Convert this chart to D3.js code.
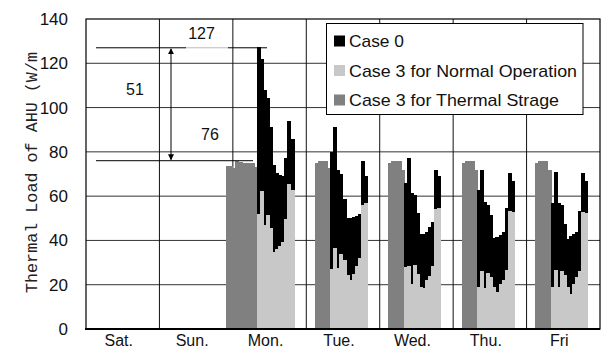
<!DOCTYPE html>
<html>
<head>
<meta charset="utf-8">
<script src="https://cdn.jsdelivr.net/npm/d3@7"></script>
<style>
  body { margin: 0; background: #fff; }
  svg { display: block; }
  svg text { font-family: "Liberation Sans", Arial, sans-serif; fill: #111; }
  svg text.y-title { font-family: "Liberation Mono", monospace; fill: #222; }
</style>
</head>
<body>
<svg id="chart" width="603" height="349"></svg>
<script>
const dayLabels = ['Sat.', 'Sun.', 'Mon.', 'Tue.', 'Wed.', 'Thu.', 'Fri']
const yTicks = [0, 20, 40, 60, 80, 100, 120, 140]
const seriesNames = ['Case 0', 'Case 3 for Normal Operation', 'Case 3 for Thermal Strage']

// first hour (counted from Sat 0:00) of each block
const storageStart = [46, 75, 99, 123, 147]
const storageLoad = [
  [73.5, 73.5, 72.5, 76, 75.5, 75, 75, 75, 75, 73],
  [75, 76, 76, 76, 72.5],
  [75, 76, 76, 76, 72],
  [75, 76, 76, 76, 72],
  [75, 76, 76, 76, 72],
]
const operationStart = [56, 80, 104, 128, 152]
const case0Load = [
  [127.5, 122, 108, 104.5, 91, 74, 70.5, 69.5, 69, 77, 94, 86],
  [80, 91, 72, 70, 58.5, 50, 50, 50.5, 51, 52, 76, 69],
  [66, 77, 61.5, 60.5, 52.5, 43, 43, 44, 46, 48.5, 72, 69],
  [63, 72, 57.5, 56, 51.5, 41, 41.5, 42.5, 44, 54.5, 70.5, 67],
  [57, 71, 57, 56, 47.5, 40.5, 42, 43, 44, 53.5, 70.5, 67],
]
const case3NormalLoad = [
  [52, 62.5, 47, 51.5, 45.5, 35, 36, 37.5, 39.5, 49.5, 65.5, 63],
  [27, 36.5, 27.5, 34, 31, 24.5, 22, 25, 28.5, 32, 56, 57],
  [28, 28.5, 20.5, 29, 25, 19, 18.5, 22, 24, 28.5, 54, 54.5],
  [19, 26, 18.5, 25.5, 23.5, 19, 16.5, 20.5, 22, 26.5, 53.5, 53],
  [19, 26.5, 19, 26, 24.5, 19, 16, 20.5, 23.5, 26, 53, 52.5],
]
const peakLoad = 127
const storedLoad = 76
const shiftedLoad = 51

const colors = ['#000000', '#c8c8c8', '#808080']
const svg = d3.select('#chart')
const x = d3.scaleLinear().domain([0, 168]).range([86, 600])
const y = d3.scaleLinear().domain([0, 140]).range([329, 19])

const toBars = (starts, values) => starts.flatMap((s, i) => values[i].map((v, j) => ({ hour: s + j, value: v })))

// grid
svg.append('g').attr('class', 'grid-y')
  .selectAll('line')
  .data(yTicks.slice(1, -1)).enter()
  .append('line')
  .attr('x1', x(0)).attr('x2', x(168))
  .attr('y1', (d) => y(d)).attr('y2', (d) => y(d))
  .attr('stroke', '#333').attr('stroke-width', 1)
svg.append('g').attr('class', 'grid-x')
  .selectAll('line')
  .data(d3.range(1, dayLabels.length)).enter()
  .append('line')
  .attr('x1', (d) => x(d * 24)).attr('x2', (d) => x(d * 24))
  .attr('y1', y(140)).attr('y2', y(0))
  .attr('stroke', '#111').attr('stroke-width', 1)

// bars, snapped to whole pixels so neighbours don't leave seams
const drawBars = (data, color, cls) => {
  svg.append('g').attr('class', cls)
    .attr('shape-rendering', 'crispEdges')
    .selectAll('rect')
    .data(data).enter()
    .append('rect')
    .attr('x', (d) => Math.floor(x(d.hour)))
    .attr('width', (d) => Math.ceil(x(d.hour + 1)) - Math.floor(x(d.hour)))
    .attr('y', (d) => Math.round(y(d.value)))
    .attr('height', (d) => Math.round(y(0)) - Math.round(y(d.value)))
    .attr('fill', color)
}
drawBars(toBars(storageStart, storageLoad), colors[2], 'storage')
drawBars(toBars(operationStart, case0Load), colors[0], 'case0')
drawBars(toBars(operationStart, case3NormalLoad), colors[1], 'case3')

// frame
svg.append('rect')
  .attr('x', x(0)).attr('y', y(140))
  .attr('width', x(168) - x(0)).attr('height', y(0) - y(140))
  .attr('fill', 'none').attr('stroke', '#000').attr('stroke-width', 1.2)
svg.append('line')
  .attr('x1', x(0) - 1).attr('x2', x(168))
  .attr('y1', y(0)).attr('y2', y(0))
  .attr('stroke', '#000').attr('stroke-width', 2)

// axes labels
svg.append('g').selectAll('text')
  .data(yTicks).enter()
  .append('text')
  .attr('x', 68)
  .attr('y', (d) => y(d) + 6)
  .attr('text-anchor', 'end')
  .attr('font-size', 17)
  .text((d) => d)
svg.append('g').selectAll('text')
  .data(dayLabels).enter()
  .append('text')
  .attr('x', (d, i) => x(i * 24 + 12) - 4)
  .attr('y', 346)
  .attr('text-anchor', 'middle')
  .attr('font-size', 16)
  .text((d) => d)
svg.append('text')
  .attr('class', 'y-title')
  .attr('transform', 'translate(37,293) rotate(-90)')
  .attr('font-size', 17)
  .attr('textLength', 241)
  .attr('lengthAdjust', 'spacingAndGlyphs')
  .text('Thermal Load of AHU (W/m')

// annotation
svg.append('defs').append('marker')
  .attr('id', 'arrow')
  .attr('viewBox', '0 0 10 10')
  .attr('refX', 9).attr('refY', 5)
  .attr('markerWidth', 6).attr('markerHeight', 7)
  .attr('markerUnits', 'userSpaceOnUse')
  .attr('orient', 'auto')
  .append('path').attr('d', 'M0,0L10,5L0,10Z').attr('fill', '#000')
const ann = svg.append('g').attr('class', 'annotation')
ann.append('line').attr('x1', 96).attr('x2', 186).attr('y1', y(peakLoad)).attr('y2', y(peakLoad)).attr('stroke', '#000')
ann.append('line').attr('x1', 186).attr('x2', 228).attr('y1', y(peakLoad)).attr('y2', y(peakLoad)).attr('stroke', '#bbb')
ann.append('line').attr('x1', 228).attr('x2', 267).attr('y1', y(peakLoad)).attr('y2', y(peakLoad)).attr('stroke', '#000')
ann.append('line').attr('x1', 96).attr('x2', 253).attr('y1', y(storedLoad)).attr('y2', y(storedLoad)).attr('stroke', '#000')
ann.append('line')
  .attr('x1', 171).attr('x2', 171)
  .attr('y1', (y(peakLoad) + y(storedLoad)) / 2).attr('y2', y(peakLoad) + 1)
  .attr('stroke', '#000').attr('marker-end', 'url(#arrow)')
ann.append('line')
  .attr('x1', 171).attr('x2', 171)
  .attr('y1', (y(peakLoad) + y(storedLoad)) / 2).attr('y2', y(storedLoad) - 1)
  .attr('stroke', '#000').attr('marker-end', 'url(#arrow)')
ann.append('text').attr('x', 201.5).attr('y', 39).attr('text-anchor', 'middle').attr('font-size', 16).text(peakLoad)
ann.append('text').attr('x', 135).attr('y', 95).attr('text-anchor', 'middle').attr('font-size', 16).text(shiftedLoad)
ann.append('text').attr('x', 210).attr('y', 140).attr('text-anchor', 'middle').attr('font-size', 16).text(storedLoad)

// legend
const legend = svg.append('g').attr('class', 'legend')
legend.append('rect')
  .attr('x', 326.5).attr('y', 23.5).attr('width', 256.5).attr('height', 91)
  .attr('fill', '#fff').attr('stroke', '#000').attr('stroke-width', 1)
const legendWidths = [55, 228, 210]
const item = legend.selectAll('.item')
  .data(seriesNames).enter()
  .append('g').attr('class', 'item')
  .attr('transform', (d, i) => `translate(334,${41 + i * 29.5})`)
item.append('rect')
  .attr('x', 0).attr('y', -5.5).attr('width', 11).attr('height', 11)
  .attr('fill', (d, i) => colors[i])
item.append('text')
  .attr('x', 15).attr('y', 6)
  .attr('font-size', 17)
  .attr('textLength', (d, i) => legendWidths[i])
  .attr('lengthAdjust', 'spacingAndGlyphs')
  .text((d) => d)
</script>
</body>
</html>
